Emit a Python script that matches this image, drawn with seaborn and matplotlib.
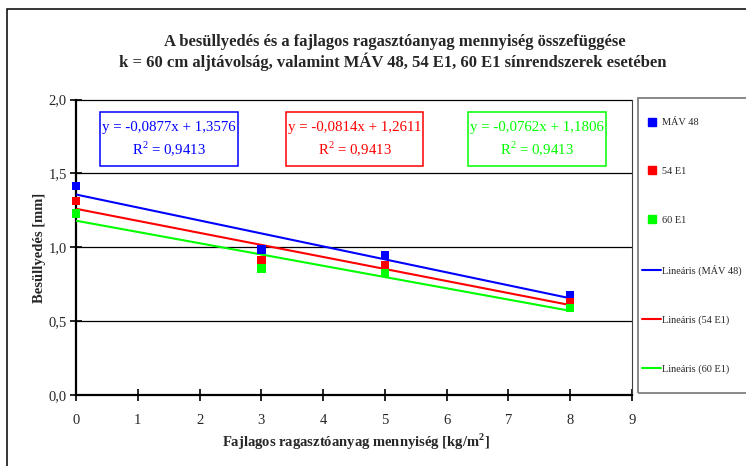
import numpy as np
import pandas as pd
import matplotlib
matplotlib.use("Agg")
import matplotlib.pyplot as plt
from matplotlib.patches import Rectangle
from matplotlib.lines import Line2D
import seaborn as sns

# Measured settlement for each rail system
glue_amount = [0, 3, 5, 8]                      # kg/m2
mav48 = [1.415, 0.985, 0.949, 0.679]            # mm
e54 = [1.314, 0.915, 0.882, 0.631]
e60 = [1.230, 0.857, 0.825, 0.590]
series_names = ["MÁV 48", "54 E1", "60 E1"]
series_colors = ["#0000FF", "#FF0000", "#00FF00"]

# Linear trend lines (slope, intercept, R^2)
slopes = [-0.0877, -0.0814, -0.0762]
intercepts = [1.3576, 1.2611, 1.1806]
r_squared = [0.9413, 0.9413, 0.9413]

x_ticks = list(range(0, 10))
y_ticks = [0.0, 0.5, 1.0, 1.5, 2.0]

sns.set_theme(style="white")
plt.rcParams["font.family"] = ["Liberation Serif", "DejaVu Serif"]
plt.rcParams["mathtext.fontset"] = "custom"
plt.rcParams["mathtext.rm"] = "Liberation Serif"
plt.rcParams["mathtext.bf"] = "Liberation Serif:bold"

W, H = 746, 466
fig = plt.figure(figsize=(W / 100, H / 100), dpi=100)
fig.patch.set_facecolor("white")

# outer chart frame
fig.add_artist(Rectangle((6.7 / W, -0.05), 1.0, 1 - 9.3 / H + 0.05,
                         transform=fig.transFigure, fill=False,
                         edgecolor="black", lw=1.1))

ax = fig.add_axes([76 / W, 1 - 395.3 / H, 556 / W, 295.8 / H])

points = pd.DataFrame({
    "x": glue_amount * 3,
    "y": mav48 + e54 + e60,
    "series": [n for n in series_names for _ in glue_amount],
})

trend_rows = []
for name, m, b in zip(series_names, slopes, intercepts):
    for xv in (glue_amount[0], glue_amount[-1]):
        trend_rows.append({"x": xv, "y": m * xv + b, "series": "Lineáris (" + name + ")"})
trend = pd.DataFrame(trend_rows)

palette_pts = dict(zip(series_names, series_colors))
palette_lines = {"Lineáris (" + n + ")": c for n, c in zip(series_names, series_colors)}

for yv in y_ticks[1:]:
    ax.axhline(yv, color="black", lw=0.9, zorder=1, clip_on=False)

sns.lineplot(data=trend, x="x", y="y", hue="series", palette=palette_lines,
             lw=1.5, legend=False, ax=ax, zorder=3)
sns.scatterplot(data=points, x="x", y="y", hue="series", palette=palette_pts,
                marker="s", s=36, linewidth=0, legend=False, ax=ax, zorder=4,
                clip_on=False)

ax.set_xlim(0, 9)
ax.set_ylim(0, 2.0)
ax.set_xticks(x_ticks)
ax.set_xticklabels([str(t) for t in x_ticks], fontsize=10.5)
ax.set_yticks(y_ticks)
ax.set_yticklabels([f"{t:.1f}".replace(".", ",") for t in y_ticks], fontsize=10.5)

for side in ("left", "bottom"):
    ax.spines[side].set_color("black")
    ax.spines[side].set_linewidth(1.6)
ax.spines["top"].set_visible(False)
ax.spines["right"].set_color("#404040")
ax.spines["right"].set_linewidth(0.8)
ax.tick_params(axis="x", direction="inout", length=9, width=1.2, color="black", pad=9)
ax.tick_params(axis="y", direction="inout", length=9, width=1.2, color="black", pad=2)
ax.tick_params(left=True, bottom=True)

ax.set_xlabel("Fajlagos ragasztóanyag mennyiség [kg/m$^\\mathbf{2}$]", fontsize=10.5,
              fontweight="bold", va="center")
ax.xaxis.set_label_coords((356 - 76) / 556, (395.3 - 442) / 295.8)
ax.set_ylabel("Besüllyedés [mm]", fontsize=10.5, fontweight="bold", va="center")
ax.yaxis.set_label_coords((39 - 76) / 556, 0.5)

# Trend line equation boxes
box_left = [100, 286, 468]
box_right = [238, 423, 606]
box_top, box_bottom = 112, 166
for x0, x1, m, b, r2, c in zip(box_left, box_right, slopes, intercepts, r_squared, series_colors):
    fx0, fx1 = (x0 - 76) / 556, (x1 - 76) / 556
    fy0, fy1 = (395.3 - box_bottom) / 295.8, (395.3 - box_top) / 295.8
    ax.add_patch(Rectangle((fx0, fy0), fx1 - fx0, fy1 - fy0, transform=ax.transAxes,
                           fill=True, fc="white", ec=c, lw=1.1, zorder=5, clip_on=False))
    eq = f"y = {m:.4f}x + {b:.4f}".replace(".", ",")
    rr = f"R$^2$ = {r2:.4f}".replace(".", ",")
    cx = (fx0 + fx1) / 2
    ax.text(cx, (395.3 - 127) / 295.8, eq, transform=ax.transAxes, ha="center",
            va="center", fontsize=10.7, color=c, zorder=6)
    ax.text(cx, (395.3 - 149) / 295.8, rr, transform=ax.transAxes, ha="center",
            va="center", fontsize=10.7, color=c, zorder=6)

fig.text(395 / W, 1 - 42 / H, "A besüllyedés és a fajlagos ragasztóanyag mennyiség összefüggése",
         ha="center", va="center", fontsize=12, fontweight="bold")
fig.text(393 / W, 1 - 62 / H, "k = 60 cm aljtávolság, valamint MÁV 48, 54 E1, 60 E1 sínrendszerek esetében",
         ha="center", va="center", fontsize=12, fontweight="bold")

# Legend panel
fig.add_artist(Rectangle((638 / W, 1 - 393 / H), 0.2, (393 - 98) / H,
                         transform=fig.transFigure, fill=False,
                         edgecolor="#808080", lw=1.3))
handles = [Line2D([], [], ls="none", marker="s", ms=5.5, mfc=c, mec=c) for c in series_colors]
handles += [Line2D([], [], color=c, lw=1.5) for c in series_colors]
labels = series_names + ["Lineáris (" + n + ")" for n in series_names]
leg = fig.legend(handles, labels, loc="upper left", bbox_to_anchor=(642 / W, 1 - 118 / H),
                 fontsize=7.4, frameon=False, handlelength=1.85, handletextpad=0.12,
                 labelspacing=3.85, borderpad=0, borderaxespad=0)

fig.savefig("out.png", dpi=100, facecolor="white")
